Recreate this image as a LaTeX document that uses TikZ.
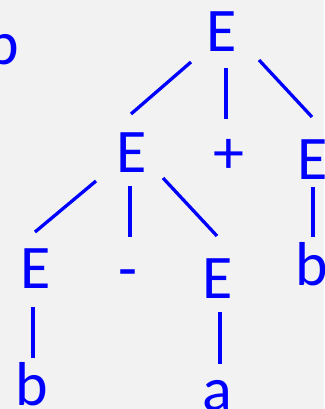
\documentclass[tikz,border=0pt]{standalone}
\usepackage{fontspec}
\setmainfont{Carlito}
\usetikzlibrary{positioning}

\definecolor{treeblue}{RGB}{0,0,255}
\definecolor{slidebg}{RGB}{242,242,242}

\begin{document}
\begin{tikzpicture}[
  x=1pt, y=-1pt,
  sym/.style={anchor=base, inner sep=0pt, text=treeblue,
              font=\fontsize{62}{62}\selectfont},
  branch/.style={draw=treeblue, line width=3.3pt},
]

% background and picture frame
\fill[slidebg] (0,0) rectangle (324,409);
\useasboundingbox (0,0) rectangle (324,409);

% leftover symbol at the left edge
\node[sym] (lb) at (3,65) {b};

% root and its children
\node[sym] (root)  at (222,52)  {E};
\node[sym] (left)  at (132,172) {E};
\node[sym] (plus)  at (229,173) {+};
\node[sym] (right) at (313,179) {E};

% second level
\node[sym] (ll)    at (36,288)  {E};
\node[sym] (minus) at (128,289) {-};
\node[sym] (lr)    at (218,298) {E};
\node[sym] (rb)    at (312,285) {b};

% leaves
\node[sym] (llb)   at (32,405)  {b};
\node[sym] (lra)   at (217,410) {a};

% --- branches of the root ---
\draw[branch] ([shift={(-31,10)}]root.base) -- ([shift={(-1,-58)}]left.base);
\draw[branch] ([shift={(4,16)}]root.base)   -- ([shift={(-3,-54)}]plus.base);
\draw[branch] ([shift={(37,8)}]root.base)   -- ([shift={(-1,-62)}]right.base);

% --- branches of the left E ---
\draw[branch] ([shift={(-36,9)}]left.base) -- ([shift={(-1,-56)}]ll.base);
\draw[branch] ([shift={(-2,14)}]left.base) -- ([shift={(2,-52)}]minus.base);
\draw[branch] ([shift={(31,6)}]left.base)  -- ([shift={(-1,-62)}]lr.base);

% --- single branches down to the leaves ---
\draw[branch] ([shift={(0,8)}]right.base) -- ([shift={(1,-48)}]rb.base);
\draw[branch] ([shift={(-3,19)}]ll.base)  -- ([shift={(1,-47)}]llb.base);
\draw[branch] ([shift={(2,14)}]lr.base)   -- ([shift={(3,-46)}]lra.base);

\end{tikzpicture}
\end{document}
